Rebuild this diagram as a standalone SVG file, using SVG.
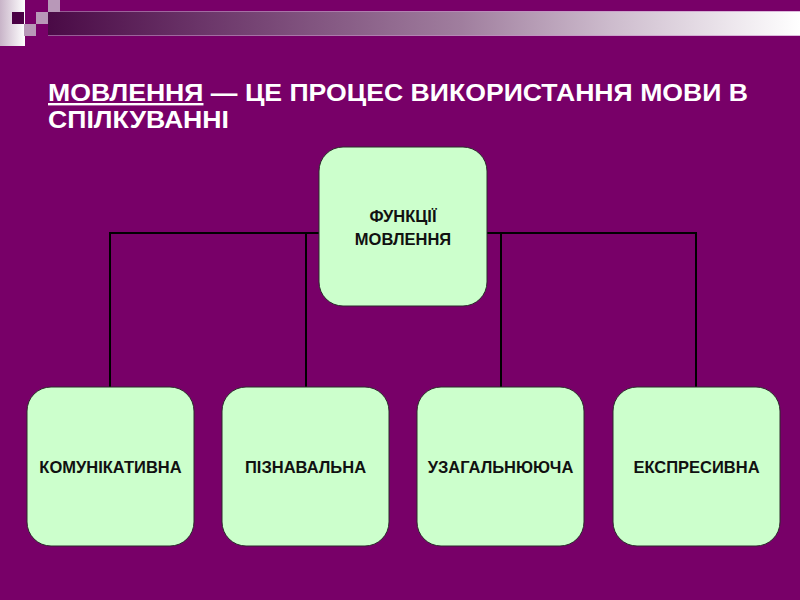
<svg xmlns="http://www.w3.org/2000/svg" width="800" height="600" viewBox="0 0 800 600">
<defs>
<linearGradient id="band" x1="0" y1="0" x2="1" y2="0">
<stop offset="0" stop-color="#4a0a46"/>
<stop offset="0.2" stop-color="#6a3468"/>
<stop offset="0.55" stop-color="#a07e9e"/>
<stop offset="0.75" stop-color="#cdbccd"/>
<stop offset="1" stop-color="#ffffff"/>
</linearGradient>
<linearGradient id="corner" x1="0" y1="0" x2="1" y2="0">
<stop offset="0" stop-color="#c8b4c8"/>
<stop offset="1" stop-color="#ffffff"/>
</linearGradient>
<style>
.node rect{fill:#ccffcc;stroke:#2a2a2a;stroke-width:1}
.node text{font-family:"Liberation Sans",Arial,sans-serif;font-weight:bold;font-size:16.5px;fill:#111;text-anchor:middle}
.conn line{stroke:#000;stroke-width:2}
.title{font-family:"Liberation Sans",Arial,sans-serif;font-weight:bold;font-size:24px;fill:#fff}
</style>
</defs>
<rect width="800" height="600" fill="#780068"/>
<g id="decor">
<rect x="48" y="11" width="752" height="25" fill="url(#band)"/>
<line x1="48" y1="11.5" x2="800" y2="11.5" stroke="#c890c8" stroke-width="1" opacity="0.6"/>
<line x1="48" y1="35.5" x2="800" y2="35.5" stroke="#c890c8" stroke-width="1" opacity="0.6"/>
<rect x="0" y="0" width="25" height="46" fill="url(#corner)"/>
<rect x="12" y="12" width="12" height="12" fill="#4a0044"/>
<rect x="48" y="0" width="12" height="12" fill="#b898b8"/>
<rect x="36" y="12" width="12" height="12" fill="#b898b8"/>
<rect x="24" y="24" width="12" height="12" fill="#b898b8"/>
<rect x="36" y="24" width="12" height="12" fill="#780068"/>
</g>
<g id="title">
<text class="title" x="48" y="101" textLength="700" lengthAdjust="spacingAndGlyphs"><tspan text-decoration="underline">МОВЛЕННЯ</tspan> — ЦЕ ПРОЦЕС ВИКОРИСТАННЯ МОВИ В</text>
<text class="title" x="48" y="128" textLength="181" lengthAdjust="spacingAndGlyphs">СПІЛКУВАННІ</text>
</g>
<g id="connectors" class="conn">
<line x1="110" y1="233" x2="696" y2="233"/>
<line x1="110" y1="232" x2="110" y2="388"/>
<line x1="306" y1="232" x2="306" y2="388"/>
<line x1="501" y1="232" x2="501" y2="388"/>
<line x1="696" y1="232" x2="696" y2="388"/>
</g>
<g id="root" class="node">
<rect x="319" y="147" width="168" height="159" rx="24"/>
<text x="403" y="222">ФУНКЦІЇ</text>
<text x="403" y="245">МОВЛЕННЯ</text>
</g>
<g id="n1" class="node">
<rect x="27" y="387" width="167" height="159" rx="24"/>
<text x="110.5" y="473">КОМУНІКАТИВНА</text>
</g>
<g id="n2" class="node">
<rect x="222" y="387" width="167" height="159" rx="24"/>
<text x="305.5" y="473">ПІЗНАВАЛЬНА</text>
</g>
<g id="n3" class="node">
<rect x="417" y="387" width="167" height="159" rx="24"/>
<text x="500.5" y="473">УЗАГАЛЬНЮЮЧА</text>
</g>
<g id="n4" class="node">
<rect x="613" y="387" width="167" height="159" rx="24"/>
<text x="696.5" y="473">ЕКСПРЕСИВНА</text>
</g>
</svg>
